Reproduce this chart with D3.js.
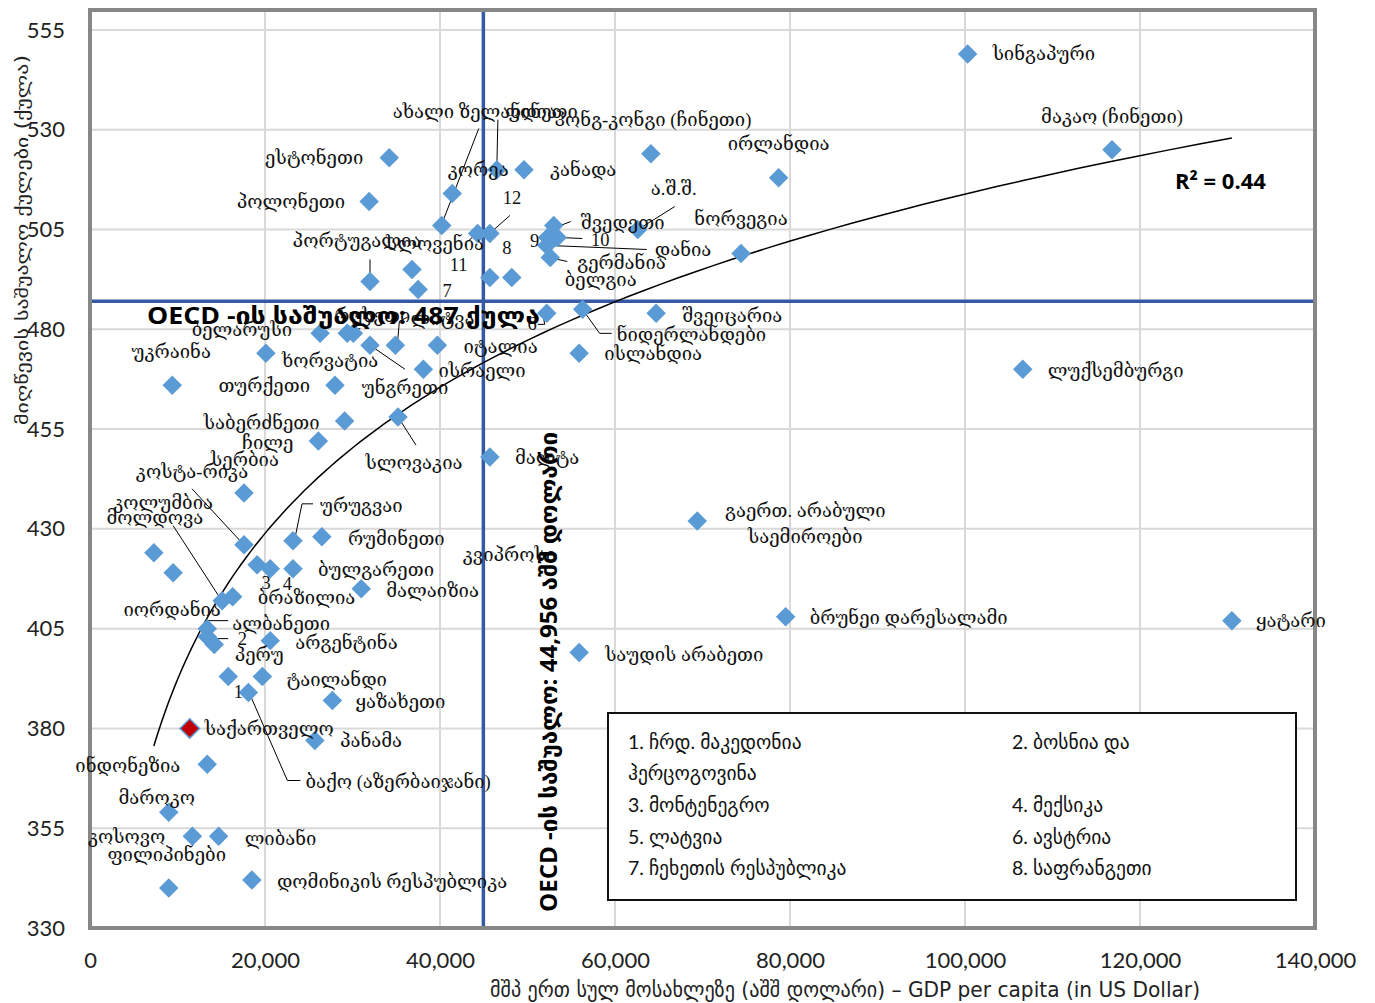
<!DOCTYPE html>
<html>
<head>
<meta charset="utf-8">
<script src="https://cdn.jsdelivr.net/npm/d3@7"></script>
<style>
  body { margin: 0; background: #fff; }
  .lbl { font-family: "Liberation Serif", "DejaVu Serif", serif; font-size: 18.5px; fill: #111; }
  .tick text { font-family: Lato, "Liberation Sans", sans-serif; font-size: 22px; fill: #222; }
</style>
</head>
<body>
<script>
// PISA-ის საშუალო ქულა და მშპ ერთ სულზე (ათასი აშშ დოლარი)
var countries = [
  "სინგაპური", "მაკაო (ჩინეთი)", "ჰონგ-კონგი (ჩინეთი)", "ესტონეთი", "კანადა",
  "ფინეთი", "ირლანდია", "კორეა", "პოლონეთი", "შვედეთი",
  "ახალი ზელანდია", "ა.შ.შ.", "11", "12", "9",
  "10", "დანია", "ნორვეგია", "გერმანია", "სლოვენია",
  "ბელგია", "8", "პორტუგალია", "7", "ნიდერლანდები",
  "6", "შვეიცარია", "ხორვატია", "რუსეთი", "5",
  "იტალია", "უნგრეთი", "ლიტვა", "ისლანდია", "ბელარუსი",
  "ისრაელი", "ლუქსემბურგი", "უკრაინა", "თურქეთი", "სლოვაკია",
  "საბერძნეთი", "ჩილე", "მალტა", "სერბია", "გაერთ. არაბული|საემიროები",
  "რუმინეთი", "ურუგვაი", "კოსტა-რიკა", "მოლდოვა", "3",
  "4", "ბულგარეთი", "იორდანია", "მალაიზია", "ბრაზილია",
  "კოლუმბია", "ბრუნეი დარესალამი", "ყატარი", "ალბანეთი", "2",
  "არგენტინა", "პერუ", "საუდის არაბეთი", "ტაილანდი", "1",
  "ბაქო (აზერბაიჯანი)", "ყაზახეთი", "საქართველო", "პანამა", "ინდონეზია",
  "მაროკო", "ლიბანი", "კოსოვო", "დომინიკის რესპუბლიკა", "ფილიპინები"
];
var gdp = [
  100.3, 116.8, 64.1, 34.2, 49.6,
  46.5, 78.7, 41.4, 31.9, 53.0,
  40.2, 62.6, 44.3, 45.7, 52.3,
  53.4, 52.2, 74.4, 52.6, 36.8,
  48.2, 45.7, 32.0, 37.5, 56.3,
  52.2, 64.7, 26.3, 29.4, 30.1,
  39.7, 32.0, 34.9, 55.9, 20.1,
  38.1, 106.6, 9.4, 28.0, 35.2,
  29.1, 26.1, 45.7, 17.6, 69.4,
  26.5, 23.2, 17.6, 7.3, 19.1,
  20.6, 23.2, 9.5, 31.0, 16.3,
  15.1, 79.5, 130.5, 13.4, 13.4,
  20.6, 14.2, 55.9, 19.7, 15.8,
  18.1, 27.7, 11.4, 25.7, 13.4,
  9.0, 14.7, 11.7, 18.5, 9.0
];
var scores = [
  549, 525, 524, 523, 520,
  520, 518, 514, 512, 506,
  506, 505, 504, 504, 503,
  503, 501, 499, 498, 495,
  493, 493, 492, 490, 485,
  484, 484, 479, 479, 479,
  476, 476, 476, 474, 474,
  470, 470, 466, 466, 458,
  457, 452, 448, 439, 432,
  428, 427, 426, 424, 421,
  420, 420, 419, 415, 413,
  412, 408, 407, 405, 403,
  402, 401, 399, 393, 393,
  389, 387, 380, 377, 371,
  359, 353, 353, 342, 340
];
var highlight = "საქართველო";
var oecdScore = 487;
var oecdGdp = 44956;
var rSquaredText = "R² = 0.44";
var looseLabels = ["კვიპროსი"];
var looseGdp = [42.6];
var looseScore = [423.5];
var xTicks = [0, 20000, 40000, 60000, 80000, 100000, 120000, 140000];
var yTicks = [330, 355, 380, 405, 430, 455, 480, 505, 530, 555];
var legendItems = ["1. ჩრდ. მაკედონია", "2. ბოსნია და", "ჰერცოგოვინა", "3. მონტენეგრო", "4. მექსიკა",
  "5. ლატვია", "6. ავსტრია", "7. ჩეხეთის რესპუბლიკა", "8. საფრანგეთი"];

// label placement: [dx, dy, anchor] relative to the marker, in px
var labelPos = [
  [25, 0, "start"], [0, -33, "middle"], [2, -34, "middle"], [-26, 0, "end"], [26, 0, "start"],
  [8, -58, "start"], [0, -34, "middle"], [26, -24, "middle"], [-24, 0, "end"], [27, -3, "start"],
  [-49, -114, "start"], [36, -41, "middle"], [-19, 31, "middle"], [22, -36, "middle"], [-13, 3, "middle"],
  [43, 2, "middle"], [108, 5, "start"], [0, -34, "middle"], [27, 6, "start"], [23, -25, "middle"],
  [53, 3, "start"], [17, -29, "middle"], [-13, -40, "middle"], [29, 2, "middle"], [34, 26, "start"],
  [-10, 11, "end"], [26, 3, "start"], [10, 28, "middle"], [25, -17, "middle"], [13, -13, "middle"],
  [26, 2, "start"], [35, 43, "middle"], [15, -26, "start"], [25, 1, "start"], [-24, -23, "middle"],
  [15, 2, "start"], [25, 2, "start"], [-1, -33, "middle"], [-25, 1, "end"], [16, 46, "middle"],
  [-25, 2, "end"], [-25, 2, "end"], [25, 1, "start"], [1, -33, "middle"], [108, -10, "middle"],
  [26, 2, "start"], [27, -35, "start"], [-52, -73, "middle"], [1, -35, "middle"], [9, 18, "middle"],
  [17, 15, "middle"], [25, 1, "start"], [-1, 37, "middle"], [25, 2, "start"], [25, 1, "start"],
  [-59, -98, "middle"], [24, 1, "start"], [24, 0, "start"], [25, -5, "start"], [35, 2, "middle"],
  [25, 2, "start"], [45, 10, "middle"], [26, 2, "start"], [24, 3, "start"], [10, 15, "middle"],
  [57, 89, "start"], [23, 2, "start"], [15, 1, "start"], [25, 1, "start"], [-27, 2, "end"],
  [-12, -14, "middle"], [26, 3, "start"], [-27, 1, "end"], [25, 2, "start"], [-2, -33, "middle"]
];
// leader lines, relative to the marker
var leaders = {
  5: [[1, -50], [0, -4]],
  9: [[17, -4], [4, 1]],
  10: [[37, -97], [1, -4]],
  11: [[37, -23], [5, -3]],
  12: [[-10, 8], [-2, 1]],
  13: [[20, -18], [2, -2]],
  15: [[25, 1], [3, 0]],
  16: [[100, 4], [3, 0]],
  18: [[17, 4], [3, 1]],
  22: [[0, -22], [0, -4]],
  24: [[2, 3], [17, 24], [29, 24]],
  25: [[-4, 1], [-2, 11], [-9, 11]],
  29: [[0, -2], [7, -5]],
  31: [[3, 2], [35, 24]],
  32: [[2, -1], [4, -24], [12, -28]],
  39: [[2, 3], [18, 28]],
  46: [[20, -37], [9, -37], [2, -3]],
  47: [[-52, -56], [-2, -2]],
  55: [[-49, -75], [-1, -1]],
  58: [[21, -8], [1, -8], [0, -3]],
  59: [[3, 2], [21, 2]],
  65: [[2, 3], [39, 88], [52, 88]]
};

var W = 1375, H = 1003;
var svg = d3.select("body").append("svg").attr("width", W).attr("height", H);

var x = d3.scaleLinear().domain([0, 140000]).range([90, 1315]);
var y = d3.scaleLinear().domain([330, 560]).range([928, 10]);

// grid
svg.append("g").selectAll("line").data(xTicks.slice(1, -1)).enter().append("line")
  .attr("x1", d => x(d)).attr("x2", d => x(d)).attr("y1", y(560)).attr("y2", y(330))
  .attr("stroke", "#d9d9d9").attr("stroke-width", 2);
svg.append("g").selectAll("line").data(yTicks.slice(1)).enter().append("line")
  .attr("x1", x(0)).attr("x2", x(140000)).attr("y1", d => y(d)).attr("y2", d => y(d))
  .attr("stroke", "#d9d9d9").attr("stroke-width", 2);

// axes
var yAxis = d3.axisLeft(y).tickValues(yTicks).tickSize(0).tickPadding(25);
svg.append("g").attr("transform", "translate(" + x(0) + ",0)").call(yAxis)
  .call(g => g.select(".domain").remove());
var xAxis = d3.axisBottom(x).tickValues(xTicks).tickFormat(d3.format(",")).tickSize(0).tickPadding(24);
svg.append("g").attr("transform", "translate(0," + y(330) + ")").call(xAxis)
  .call(g => g.select(".domain").remove());

svg.append("text")
  .attr("transform", "translate(22," + 240 + ") rotate(-90)")
  .attr("text-anchor", "middle").attr("dominant-baseline", "central")
  .attr("textLength", 370).attr("lengthAdjust", "spacingAndGlyphs")
  .style("font-family", "'DejaVu Sans', sans-serif").style("font-size", "17px").attr("fill", "#222")
  .text("მიღწევის საშუალო ქულები (ქულა)");
svg.append("text")
  .attr("x", 845).attr("y", 990)
  .attr("text-anchor", "middle").attr("dominant-baseline", "central")
  .attr("textLength", 710).attr("lengthAdjust", "spacingAndGlyphs")
  .style("font-family", "'DejaVu Sans', sans-serif").style("font-size", "21px").attr("fill", "#222")
  .text("მშპ ერთ სულ მოსახლეზე (აშშ დოლარი) – GDP per capita (in US Dollar)");

// OECD average lines
svg.append("line").attr("x1", x(0)).attr("x2", x(140000)).attr("y1", y(oecdScore)).attr("y2", y(oecdScore))
  .attr("stroke", "#3659a3").attr("stroke-width", 3.5);
svg.append("line").attr("x1", x(oecdGdp)).attr("x2", x(oecdGdp)).attr("y1", y(560)).attr("y2", y(330))
  .attr("stroke", "#3659a3").attr("stroke-width", 3.5);

// logarithmic trend line
var pts = gdp.map((g, i) => [g * 1000, scores[i]]);
var n = pts.length;
var sl = d3.sum(pts, p => Math.log(p[0])), sy = d3.sum(pts, p => p[1]);
var sll = d3.sum(pts, p => Math.log(p[0]) * Math.log(p[0])), sly = d3.sum(pts, p => Math.log(p[0]) * p[1]);
var a = (n * sly - sl * sy) / (n * sll - sl * sl);
var b = (sy - a * sl) / n;
var xmin = d3.min(pts, p => p[0]), xmax = d3.max(pts, p => p[0]);
var trend = d3.range(0, 101).map(k => {
  var xv = xmin * Math.pow(xmax / xmin, k / 100);
  return [xv, a * Math.log(xv) + b];
});
svg.append("path").datum(trend)
  .attr("d", d3.line().x(d => x(d[0])).y(d => y(d[1])))
  .attr("fill", "none").attr("stroke", "#000").attr("stroke-width", 1.5);

// plot border
svg.append("rect").attr("x", x(0)).attr("y", y(560)).attr("width", x(140000) - x(0)).attr("height", y(330) - y(560))
  .attr("fill", "none").attr("stroke", "#878787").attr("stroke-width", 4);

// leaders
var leaderG = svg.append("g");
Object.keys(leaders).forEach(function (k) {
  var i = +k, px = x(gdp[i] * 1000), py = y(scores[i]);
  leaderG.append("path")
    .attr("d", d3.line()(leaders[k].map(p => [px + p[0], py + p[1]])))
    .attr("fill", "none").attr("stroke", "#000").attr("stroke-width", 1);
});

// markers
var diamond = d3.symbol().type(d3.symbolSquare).size(190);
svg.append("g").selectAll("path").data(pts).enter().append("path")
  .attr("d", diamond)
  .attr("transform", d => "translate(" + x(d[0]) + "," + y(d[1]) + ") rotate(45)")
  .attr("fill", (d, i) => countries[i] === highlight ? "#c00000" : "#5b9bd5")
  .attr("stroke", (d, i) => countries[i] === highlight ? "#5b9bd5" : "none")
  .attr("stroke-width", 1.5);

// labels
var labG = svg.append("g");
countries.forEach(function (name, i) {
  var px = x(gdp[i] * 1000), py = y(scores[i]), p = labelPos[i];
  var lines = name.split("|");
  lines.forEach(function (ln, j) {
    labG.append("text").attr("class", "lbl")
      .attr("x", px + p[0]).attr("y", py + p[1] + j * 26)
      .attr("text-anchor", p[2]).attr("dominant-baseline", "central")
      .attr("fill", name === highlight ? "#c00000" : "#111")
      .text(ln);
  });
});
looseLabels.forEach(function (t, i) {
  labG.append("text").attr("class", "lbl")
    .attr("x", x(looseGdp[i] * 1000)).attr("y", y(looseScore[i]))
    .attr("dominant-baseline", "central").text(t);
});

// legend box
var lg = svg.append("g");
lg.append("rect").attr("x", 608).attr("y", 713).attr("width", 688).attr("height", 187)
  .attr("fill", "#fff").attr("stroke", "#111").attr("stroke-width", 2);
var legendSlots = [[0, 0], [1, 0], [0, 1], [0, 2], [1, 2], [0, 3], [1, 3], [0, 4], [1, 4]];
lg.selectAll("text").data(legendItems).enter().append("text")
  .attr("x", (d, i) => 628 + legendSlots[i][0] * 384)
  .attr("y", (d, i) => 741 + legendSlots[i][1] * 31.7)
  .attr("dominant-baseline", "central")
  .style("font-family", "Lato, 'DejaVu Sans', sans-serif").style("font-size", "19.5px").attr("fill", "#111")
  .text(d => d);

// OECD annotations
svg.append("text").attr("x", 147).attr("y", 315).attr("dominant-baseline", "central")
  .attr("textLength", 393).attr("lengthAdjust", "spacingAndGlyphs")
  .style("font-family", "'Open Sans', 'DejaVu Sans', sans-serif").style("font-size", "23px").style("font-weight", "bold")
  .attr("fill", "#000").text("OECD -ის საშუალო: " + oecdScore + " ქულა");
svg.append("text").attr("transform", "translate(548,912) rotate(-90)").attr("dominant-baseline", "central")
  .attr("textLength", 480).attr("lengthAdjust", "spacingAndGlyphs")
  .style("font-family", "'Open Sans', 'DejaVu Sans', sans-serif").style("font-size", "23px").style("font-weight", "bold")
  .attr("fill", "#000").text("OECD -ის საშუალო: " + d3.format(",")(oecdGdp) + " აშშ დოლარი");

svg.append("text").attr("x", 1175).attr("y", 180).attr("dominant-baseline", "central")
  .style("font-family", "'Open Sans', sans-serif").style("font-size", "22px").style("font-weight", "bold")
  .attr("fill", "#000").text(rSquaredText);
</script>
</body>
</html>
